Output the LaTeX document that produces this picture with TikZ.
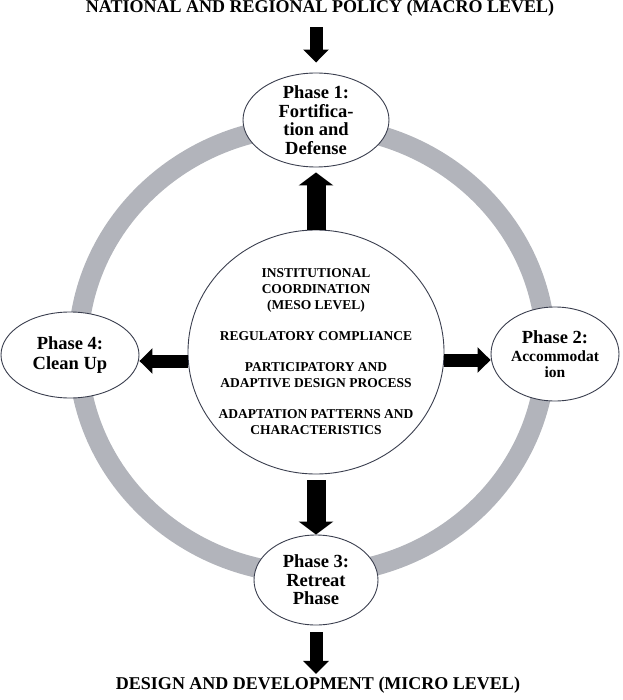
\documentclass[tikz,border=0pt]{standalone}
\usepackage{fontspec}
\setmainfont{Liberation Serif}
\usetikzlibrary{shapes.geometric}
\usetikzlibrary{arrows.meta}
\definecolor{ringgray}{RGB}{178,180,187}
\definecolor{rim}{RGB}{58,62,78}

\begin{document}
\begin{tikzpicture}[x=1pt,y=-1pt,
              phase/.style={ellipse, draw=rim, line width=0.9pt, fill=white, inner sep=-9pt,
                align=center, font=\bfseries\fontsize{18.5}{18.5}\selectfont},
              hub/.style={ellipse, draw=rim, line width=0.9pt, fill=white, inner sep=-10pt,
                minimum width=256pt, minimum height=244pt,
                align=center, font=\bfseries\fontsize{13.5}{16}\selectfont},
              banner/.style={font=\bfseries\fontsize{18}{20}\selectfont},
              thinarrow/.style={line width=13pt, -{Triangle[length=13pt,width=25pt]}},
              fatarrow/.style={line width=19pt, -{Triangle[length=13pt,width=34pt]}}]
  \useasboundingbox (0,0) rectangle (622,700);
  % the cycle
  \draw[ringgray, line width=20pt] (312,350) ellipse [x radius=234pt, y radius=224pt];

  \node[banner] (macro) at (320,8.5) {NATIONAL AND REGIONAL POLICY (MACRO LEVEL)};
  \node[banner] (micro) at (318,685.6) {DESIGN AND DEVELOPMENT (MICRO LEVEL)};

  \node[phase, minimum width=146pt, minimum height=94pt] (p1) at (316,120)
    {Phase 1:\\Fortifica-\\tion and\\Defense};
  \node[phase, minimum width=128pt, minimum height=94pt] (p2) at (555,354)
    {Phase 2:\\{\fontsize{15.5}{16}\selectfont Accommodat}\\[-3pt]{\fontsize{15.5}{16}\selectfont ion}};
  \node[phase, minimum width=124pt, minimum height=90pt] (p3) at (316,580)
    {Phase 3:\\Retreat\\Phase};
  \node[phase, minimum width=138pt, minimum height=86pt] (p4) at (70,355)
    {Phase 4:\\[1.5pt]Clean Up};

  \node[hub] (meso) at (316,352)
    {INSTITUTIONAL\\COORDINATION\\(MESO LEVEL)\\[15pt]
     REGULATORY COMPLIANCE\\[15pt]
     PARTICIPATORY AND\\ADAPTIVE DESIGN PROCESS\\[15pt]
     ADAPTATION PATTERNS AND\\CHARACTERISTICS};

  % arrows
  \draw[thinarrow, shorten <=7pt, shorten >=10pt] (macro.south -| p1.north) -- (p1.north);
  \draw[fatarrow, shorten >=5pt] (meso.north) -- (p1.south);
  \draw[fatarrow, shorten <=6pt] (meso.south) -- (p3.north);
  \draw[thinarrow] ([yshift=-9pt]meso.west) -- ([yshift=-9pt]meso.west -| p4.east);
  \draw[thinarrow] ([yshift=-8pt]meso.east) -- ([yshift=-8pt]meso.east -| p2.west);
  \draw[thinarrow, shorten <=7pt] (p3.south) -- (micro.north -| p3.south);
\end{tikzpicture}
\end{document}
